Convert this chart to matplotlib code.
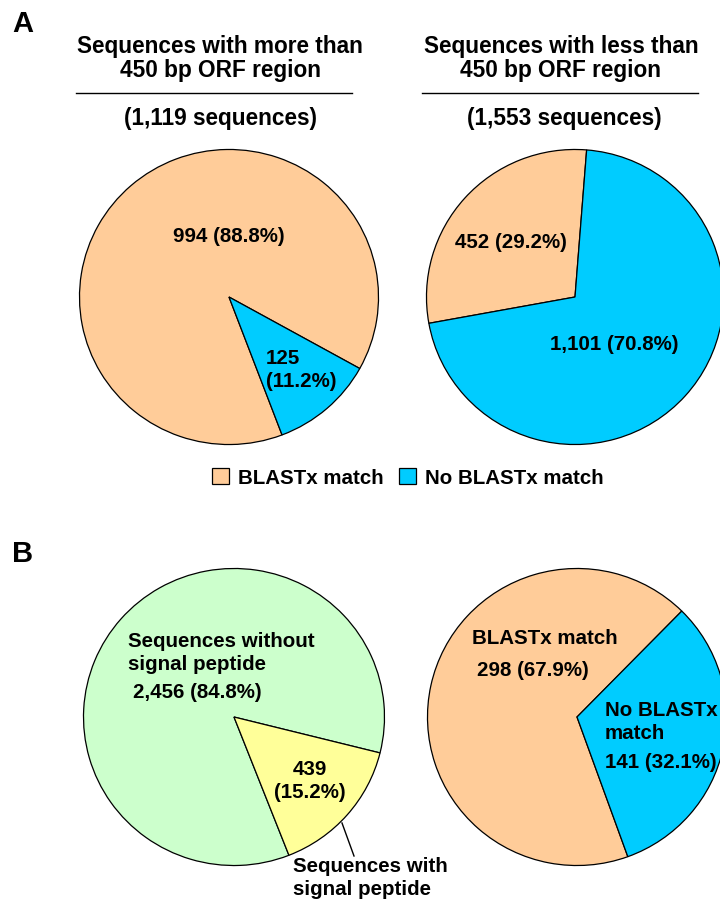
import matplotlib
matplotlib.use("Agg")
import matplotlib.pyplot as plt
from matplotlib.patches import Patch

plt.rcParams['font.family'] = ['Liberation Sans', 'DejaVu Sans']
plt.rcParams['font.weight'] = 'bold'

# colours
peach = '#FFCC99'
blue = '#00CCFF'
green = '#CCFFCC'
yellow = '#FFFF99'

# data
orf_long = [994, 125]        # BLASTx match, no match (>450 bp)
orf_short = [452, 1101]      # BLASTx match, no match (<450 bp)
signal = [2456, 439]         # without / with signal peptide
signal_blast = [298, 141]    # BLASTx match, no match (with signal peptide)

W, H = 720, 901
fig = plt.figure(figsize=(W / 100, H / 100), dpi=100)


def pie_axes(cx, cy, rx=150, ry=149):
    # axes placed in pixel units so the pie has radius ~150 px
    ax = fig.add_axes([(cx - rx) / W, 1 - (cy + ry) / H, 2 * rx / W, 2 * ry / H])
    return ax


def px(x, y):
    return x / W, 1 - y / H


def draw_pie(ax, values, colors, start):
    ax.pie(values, colors=colors, startangle=start, counterclock=True,
           radius=1, center=(0, 0), frame=True,
           wedgeprops=dict(edgecolor='black', linewidth=0.9))
    ax.set_xlim(-1.01, 1.01)
    ax.set_ylim(-1.01, 1.01)
    ax.set_aspect('auto')
    ax.axis('off')


def label(x, y, s, size=14.8, ha='center', **kw):
    fig.text(*px(x, y), s, fontsize=size, fontweight='bold', ha=ha, va='center', **kw)


# panel A
ax1 = pie_axes(229, 297, 151, 149)
draw_pie(ax1, orf_long, [peach, blue], -29)
ax2 = pie_axes(575, 297, 150, 149)
draw_pie(ax2, orf_short, [peach, blue], 85.5)

label(23, 24, 'A', size=21)
tsize = 16.3
label(220, 46, 'Sequences with more than', size=tsize)
label(220, 71, '450 bp ORF region', size=tsize)
label(220, 119, '(1,119 sequences)', size=tsize)
label(561, 46, 'Sequences with less than', size=tsize)
label(561, 71, '450 bp ORF region', size=tsize)
label(564, 119, '(1,553 sequences)', size=tsize)
fig.add_artist(plt.Line2D([76 / W, 352 / W], [1 - 93 / H] * 2, color='black', lw=1))
fig.add_artist(plt.Line2D([422 / W, 698 / W], [1 - 93 / H] * 2, color='black', lw=1))

label(229, 237, '994 (88.8%)')
label(266, 370, '125\n(11.2%)', ha='left', linespacing=1.28)
label(511, 242, '452 (29.2%)')
label(614, 345, '1,101 (70.8%)')

handles = [Patch(facecolor=peach, edgecolor='black', lw=0.9, label='BLASTx match'),
           Patch(facecolor=blue, edgecolor='black', lw=0.9, label='No BLASTx match')]
fig.legend(handles=handles, loc='center', bbox_to_anchor=px(408, 478), ncol=2,
           frameon=False, handlelength=0.8, handleheight=0.8, handletextpad=0.45,
           columnspacing=0.75, borderpad=0, prop=dict(size=14.8, weight='bold'))

# panel B
ax3 = pie_axes(234, 717, 152, 150)
draw_pie(ax3, signal, [green, yellow], -14)
ax4 = pie_axes(577, 717, 151, 150)
draw_pie(ax4, signal_blast, [peach, blue], 45.5)

label(23, 554, 'B', size=21)
label(128, 653, 'Sequences without\nsignal peptide', ha='left', linespacing=1.28)
label(133, 693, '2,456 (84.8%)', ha='left')
label(310, 781, '439\n(15.2%)', linespacing=1.28)
fig.add_artist(plt.Line2D([342 / W, 354 / W], [1 - 823 / H, 1 - 856 / H], color='black', lw=1))
label(293, 878, 'Sequences with\nsignal peptide', ha='left', linespacing=1.28)
label(472, 638, 'BLASTx match', ha='left')
label(477, 671, '298 (67.9%)', ha='left')
label(605, 722, 'No BLASTx\nmatch', ha='left', linespacing=1.28)
label(605, 763, '141 (32.1%)', ha='left')

fig.savefig('out.png', dpi=100)
